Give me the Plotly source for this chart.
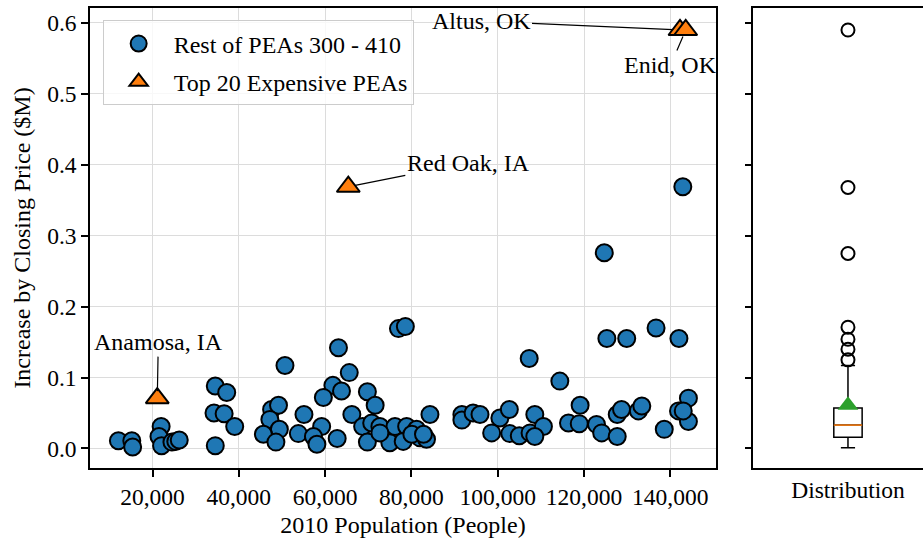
import plotly.graph_objects as go

# --- Rest of PEAs 300-410: 2010 population vs. increase by closing price ($M)
rest_pop = [12100, 15200, 15400, 22000, 21500, 22100, 24500, 25400, 26200,
            34550, 37200, 34250, 36600, 39050, 34550, 47600, 49200, 47200,
            49400, 45700, 48600, 50700, 63100, 65600, 61800, 63800, 59600,
            69800, 71600, 55100, 66200, 59200, 53800, 57300, 58100, 62800,
            68700, 70800, 69800, 72700, 75000, 76200, 78900, 78100, 81200,
            82000, 84300, 83500, 91700, 91700, 94300, 72700, 80100, 82800,
            77000, 78600, 107300, 114400, 125300, 129900, 136700, 142000,
            95900, 100500, 102700, 98600, 102800, 105000, 107500, 108600,
            110600, 108600, 116400, 118900, 119100, 122900, 124100, 127700,
            127700, 128700, 132600, 133400, 138600, 141900, 144200, 144200,
            143000, 124700, 142900]
rest_inc = [0.011, 0.011, 0.002, 0.031, 0.017, 0.004, 0.009, 0.010, 0.012,
            0.088, 0.079, 0.050, 0.049, 0.031, 0.004, 0.055, 0.061, 0.041,
            0.027, 0.020, 0.009, 0.117, 0.142, 0.107, 0.089, 0.081, 0.072,
            0.080, 0.061, 0.048, 0.048, 0.031, 0.021, 0.017, 0.006, 0.014,
            0.031, 0.036, 0.009, 0.031, 0.008, 0.031, 0.031, 0.010, 0.027,
            0.015, 0.048, 0.013, 0.048, 0.040, 0.050, 0.022, 0.020, 0.020,
            0.169, 0.172, 0.127, 0.095, 0.155, 0.155, 0.170, 0.155,
            0.048, 0.043, 0.055, 0.022, 0.021, 0.018, 0.022, 0.048,
            0.031, 0.017, 0.036, 0.035, 0.061, 0.034, 0.022, 0.017,
            0.048, 0.055, 0.053, 0.060, 0.027, 0.053, 0.071, 0.038,
            0.053, 0.276, 0.369]

# --- Top 20 expensive PEAs (labelled ones)
top_names = ["Altus, OK", "Enid, OK", "Red Oak, IA", "Anamosa, IA"]
top_pop = [142250, 143570, 65380, 21110]
top_inc = [0.590, 0.590, 0.369, 0.071]
# label offsets (px) of each annotation relative to its point
label_dx = [-199, -15, 120, 1]
label_dy = [-9, 35, -24, -56]

# --- Distribution summary (box plot)
box_q1 = 0.016
box_median = 0.033
box_q3 = 0.057
box_low = 0.001
box_high = 0.117
box_mean = 0.061
box_outliers = [0.590, 0.368, 0.275, 0.171, 0.154, 0.140, 0.125]
box_pos = 1.0
box_width = 0.15

x_ticks = [20000, 40000, 60000, 80000, 100000, 120000, 140000]
y_ticks = [0.0, 0.1, 0.2, 0.3, 0.4, 0.5, 0.6]

FONT = "'Liberation Serif', 'Times New Roman', Times, 'DejaVu Serif', serif"
TEXT_SIZE = 24
TICK_SIZE = 23.5
BLUE = "#1f77b4"
ORANGE = "#ff7f0e"
GREEN = "#2ca02c"

fig = go.Figure()

fig.add_trace(go.Scatter(
    x=rest_pop, y=rest_inc, mode="markers", name="Rest of PEAs 300 - 410",
    legendgroup="rest",
    marker=dict(symbol="circle", size=17, color=BLUE,
                line=dict(color="black", width=2)),
    xaxis="x", yaxis="y"))

fig.add_trace(go.Scatter(
    x=top_pop, y=top_inc, mode="markers", name="Top 20 Expensive PEAs",
    legendgroup="top",
    marker=dict(symbol="triangle-up", size=20, color=ORANGE,
                line=dict(color="black", width=2)),
    xaxis="x", yaxis="y"))

# box plot panel
fig.add_trace(go.Box(
    x=[box_pos], q1=[box_q1], median=[box_median], q3=[box_q3],
    lowerfence=[box_low], upperfence=[box_high],
    width=box_width, whiskerwidth=0.5, boxpoints=False,
    fillcolor="white", line=dict(color="black", width=1.5),
    showlegend=False, xaxis="x2", yaxis="y2", hoverinfo="skip"))

fig.add_trace(go.Scatter(
    x=[box_pos - box_width / 2, box_pos + box_width / 2],
    y=[box_median, box_median], mode="lines",
    line=dict(color=ORANGE, width=1.5), showlegend=False,
    xaxis="x2", yaxis="y2", hoverinfo="skip"))

fig.add_trace(go.Scatter(
    x=[box_pos] * len(box_outliers), y=box_outliers, mode="markers",
    marker=dict(symbol="circle-open", size=13, color="black",
                line=dict(color="black", width=2)),
    showlegend=False, xaxis="x2", yaxis="y2", hoverinfo="skip"))

fig.add_trace(go.Scatter(
    x=[box_pos], y=[box_mean], mode="markers",
    marker=dict(symbol="triangle-up", size=18, color=GREEN,
                line=dict(width=0)),
    showlegend=False, xaxis="x2", yaxis="y2", hoverinfo="skip"))

annotations = []
for name, px, py, dx, dy in zip(top_names, top_pop, top_inc, label_dx, label_dy):
    annotations.append(dict(
        x=px, y=py, xref="x", yref="y", text=name, showarrow=True,
        ax=dx, ay=dy, arrowhead=0, arrowwidth=1.2, arrowcolor="black",
        standoff=7, font=dict(family=FONT, size=TEXT_SIZE, color="black")))

axis_common = dict(showline=True, linecolor="black", linewidth=1.5,
                   ticks="outside", ticklen=7, tickwidth=1.5,
                   tickcolor="black", zeroline=False,
                   tickfont=dict(family=FONT, size=TICK_SIZE, color="black"))

fig.update_layout(
    width=923, height=542,
    margin=dict(l=90, r=0, t=8, b=74),
    paper_bgcolor="white", plot_bgcolor="white",
    font=dict(family=FONT, size=TICK_SIZE, color="black"),
    xaxis=dict(domain=[0, 0.7515], range=[5516, 150591],
               tickvals=x_ticks, tickformat=",", mirror=True,
               showgrid=True, gridcolor="#dcdcdc", gridwidth=1,
               title=dict(text="2010 Population (People)",
                          font=dict(family=FONT, size=TEXT_SIZE), standoff=7),
               **axis_common),
    yaxis=dict(domain=[0, 1], range=[-0.0275, 0.621],
               tickvals=y_ticks, tickformat=".1f", mirror=True,
               showgrid=True, gridcolor="#dcdcdc", gridwidth=1,
               title=dict(text="Increase by Closing Price ($M)",
                          font=dict(family=FONT, size=TEXT_SIZE), standoff=10),
               **axis_common),
    xaxis2=dict(domain=[0.7965, 1], range=[0.5, 1.397], anchor="y2",
                tickvals=[box_pos], ticktext=["Distribution"],
                showgrid=False, showline=True, linecolor="black",
                linewidth=1.5, mirror=True, ticks="", zeroline=False,
                tickfont=dict(family=FONT, size=TICK_SIZE, color="black")),
    yaxis2=dict(domain=[0, 1], range=[-0.0275, 0.621], anchor="x2",
                tickvals=y_ticks, showticklabels=False, showgrid=False,
                showline=True, linecolor="black", linewidth=1.5,
                mirror=False, ticks="outside", ticklen=7, tickwidth=1.5,
                tickcolor="black", zeroline=False),
    legend=dict(x=0.0152, y=0.973, xanchor="left", yanchor="top",
                bgcolor="rgba(255,255,255,0.8)", bordercolor="#cccccc",
                borderwidth=1, font=dict(family=FONT, size=TEXT_SIZE),
                itemwidth=60, tracegroupgap=4),
    annotations=annotations,
    showlegend=True,
)

fig.write_html("out.html")
